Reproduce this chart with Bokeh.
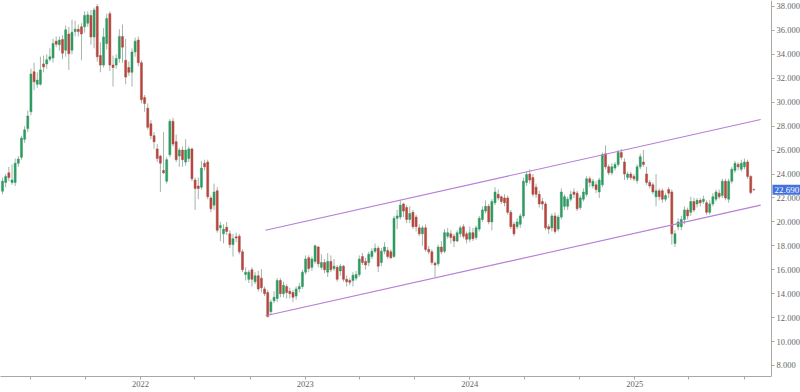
import pandas as pd
from bokeh.plotting import figure
from bokeh.models import Range1d, FixedTicker, NumeralTickFormatter, Label, ColumnDataSource
from bokeh.embed import file_html
from bokeh.resources import INLINE

# ---- data (weekly candles) ----
start_date = "2021-03-01"
opens = [22.56, 23.3, 24.1, 23.3, 23.3, 24.9, 25.4, 26.9, 27.8, 29.2,
         32.55, 31.5, 31.5, 33.2, 33.2, 33.6, 33.7, 35.1, 34.8, 35.25,
         34.35, 35.7, 34.35, 35.9, 36.1, 36.3, 36.3, 36.6, 37.25, 35.45,
         38.0, 33.9, 33.1, 34.9, 37.4, 33.1, 33.1, 33.65, 35.5, 33.5,
         32.9, 32.5, 34.2, 35.2, 33.3, 30.4, 29.5, 28.2, 27.2, 26.1,
         25.5, 24.3, 23.4, 25.6, 28.4, 26.7, 25.5, 26.0, 25.0, 25.3,
         26.1, 23.5, 23.0, 22.9, 24.9, 25.0, 22.0, 21.4, 22.6, 19.5,
         19.0, 19.55, 19.0, 18.1, 18.75, 18.8, 17.5, 15.6, 15.2, 16.0,
         15.0, 15.5, 15.3, 14.4, 14.1, 12.5, 13.4, 13.6, 15.1, 14.0,
         14.6, 14.2, 14.1, 13.8, 14.4, 14.6, 15.8, 17.0, 16.2, 16.7,
         17.9, 16.2, 16.6, 15.8, 16.7, 16.1, 16.2, 15.9, 16.3, 15.2,
         15.1, 15.1, 15.3, 15.6, 17.1, 16.7, 16.6, 17.1, 17.55, 17.8,
         16.6, 17.55, 17.6, 17.5, 17.1, 20.3, 20.4, 21.5, 21.2, 20.2,
         20.8, 20.4, 19.5, 19.0, 19.5, 17.7, 17.5, 16.55, 16.5, 17.9,
         17.55, 18.8, 19.0, 18.8, 18.4, 19.0, 19.6, 19.0, 18.55, 19.1,
         18.7, 19.4, 20.2, 20.9, 21.3, 20.0, 21.6, 22.3, 22.1, 22.0,
         22.0, 20.8, 19.8, 19.6, 19.8, 20.5, 23.3, 24.0, 23.7, 22.9,
         22.3, 21.7, 21.5, 19.6, 19.5, 20.5, 19.4, 20.4, 21.3, 21.3,
         21.9, 22.5, 22.4, 21.2, 21.9, 22.3, 23.6, 23.0, 23.1, 22.5,
         23.1, 25.7, 24.6, 24.1, 24.5, 24.8, 25.8, 25.0, 23.7, 24.0,
         23.8, 23.45, 24.6, 25.0, 24.0, 23.3, 23.1, 22.1, 22.6, 22.6,
         21.9, 22.7, 22.5, 18.2, 19.6, 19.6, 20.2, 21.0, 20.8, 21.7,
         21.5, 21.8, 21.7, 21.6, 20.8, 21.5, 21.9, 22.4, 22.2, 23.4,
         21.9, 23.4, 24.3, 24.8, 24.4, 24.6, 25.0, 23.8, 22.7]
closes = [23.4, 23.8, 23.7, 23.5, 24.9, 25.25, 27.0, 27.7, 28.85, 32.35,
          31.7, 31.85, 32.7, 32.95, 33.55, 33.8, 34.9, 34.85, 35.2, 34.1,
          36.05, 34.05, 35.85, 36.1, 35.9, 35.7, 37.25, 37.3, 35.45, 37.7,
          33.8, 33.1, 35.45, 37.0, 33.1, 32.9, 33.65, 35.5, 34.6, 32.1,
          32.5, 34.2, 35.1, 33.3, 30.2, 29.9, 27.9, 27.2, 26.7, 25.3,
          24.9, 24.1, 25.2, 28.4, 26.5, 25.2, 26.0, 25.2, 26.0, 26.1,
          23.6, 22.8, 22.8, 24.5, 24.6, 22.1, 21.1, 22.5, 19.3, 19.7,
          19.4, 19.2, 18.1, 18.6, 18.65, 17.5, 16.0, 15.8, 15.8, 15.2,
          15.5, 14.4, 14.5, 14.0, 12.1, 13.3, 13.7, 15.1, 14.0, 14.7,
          14.1, 14.0, 13.7, 14.4, 14.6, 15.8, 16.9, 16.1, 16.9, 18.0,
          16.5, 16.6, 16.0, 16.7, 16.0, 16.3, 15.2, 16.3, 15.2, 15.0,
          14.95, 15.55, 15.6, 16.9, 16.6, 16.4, 17.3, 17.55, 17.8, 16.3,
          17.55, 17.9, 17.1, 17.0, 20.3, 20.5, 21.4, 20.9, 20.2, 20.7,
          19.6, 19.6, 19.0, 19.5, 17.7, 17.5, 16.6, 16.4, 17.9, 17.5,
          19.1, 19.1, 18.7, 18.4, 19.1, 19.5, 18.8, 18.55, 19.1, 18.6,
          19.5, 20.3, 21.0, 21.3, 20.0, 21.7, 22.5, 22.0, 21.7, 21.6,
          20.8, 19.6, 19.0, 20.0, 20.5, 23.4, 23.95, 23.5, 22.3, 22.3,
          21.5, 21.5, 19.5, 19.4, 20.5, 19.2, 20.4, 22.5, 22.1, 21.9,
          22.3, 22.3, 21.1, 22.0, 22.5, 23.6, 23.3, 23.4, 22.7, 23.5,
          25.6, 24.6, 24.1, 24.6, 24.8, 25.8, 25.4, 24.0, 24.0, 23.7,
          23.6, 24.6, 25.45, 24.8, 23.3, 23.0, 22.5, 22.6, 22.1, 21.9,
          22.2, 22.4, 19.0, 19.0, 20.0, 20.2, 21.0, 20.5, 21.7, 21.0,
          21.8, 21.6, 21.9, 20.8, 21.5, 22.1, 22.5, 22.1, 23.4, 22.0,
          23.4, 24.4, 24.9, 24.6, 24.9, 25.0, 23.8, 22.45, 22.69]
highs = [23.7, 24.0, 24.6, 24.8, 25.3, 25.5, 27.2, 28.0, 29.3, 32.8,
         33.3, 32.5, 33.8, 33.9, 34.0, 34.5, 35.3, 35.5, 35.5, 35.6,
         36.4, 36.3, 36.9, 36.8, 36.5, 36.6, 37.6, 37.6, 37.7, 37.9,
         38.2, 35.0, 36.2, 37.4, 37.6, 33.9, 34.0, 36.1, 36.5, 35.3,
         33.4, 34.5, 35.4, 35.5, 33.5, 30.6, 29.9, 28.5, 27.5, 26.5,
         25.6, 27.5, 25.4, 28.6, 28.7, 27.3, 26.2, 26.3, 26.9, 26.3,
         26.2, 23.7, 23.7, 25.1, 25.2, 25.2, 22.2, 23.2, 22.9, 20.0,
         19.8, 20.0, 19.3, 19.0, 19.1, 19.0, 17.7, 16.2, 16.0, 16.2,
         15.8, 15.9, 16.05, 14.6, 14.3, 13.5, 14.2, 15.3, 15.3, 15.0,
         14.8, 14.5, 14.3, 14.6, 14.9, 16.0, 17.2, 17.2, 17.1, 18.1,
         18.0, 17.3, 16.9, 17.4, 17.2, 16.9, 16.4, 16.5, 16.4, 15.5,
         15.3, 15.8, 15.9, 17.2, 17.4, 17.0, 17.5, 17.8, 18.2, 18.0,
         17.8, 18.3, 17.9, 17.7, 20.5, 21.0, 21.8, 21.6, 21.4, 21.3,
         21.0, 20.6, 19.8, 19.7, 19.8, 18.0, 17.7, 16.7, 18.1, 18.4,
         19.4, 19.5, 19.3, 19.0, 19.3, 19.7, 19.8, 19.2, 19.6, 19.5,
         19.7, 20.5, 21.3, 21.8, 21.5, 21.9, 22.9, 22.7, 22.2, 22.3,
         22.2, 21.0, 20.0, 20.3, 20.7, 23.7, 24.2, 24.4, 24.0, 23.2,
         22.6, 22.0, 21.7, 19.8, 20.7, 20.8, 20.6, 22.8, 22.3, 22.1,
         22.6, 22.8, 22.6, 22.2, 22.8, 23.8, 23.8, 23.6, 23.4, 23.7,
         25.8, 26.4, 24.8, 24.9, 25.0, 26.0, 26.1, 25.3, 24.2, 24.2,
         24.0, 24.8, 25.7, 26.0, 24.6, 23.5, 23.3, 24.0, 22.8, 22.8,
         22.4, 22.9, 22.7, 19.3, 20.3, 20.5, 21.3, 21.2, 22.1, 22.0,
         22.0, 22.0, 22.2, 21.8, 21.8, 22.4, 22.7, 22.7, 23.6, 23.6,
         23.6, 24.6, 25.1, 25.0, 25.2, 25.3, 25.2, 23.9, 22.8]
lows = [22.3, 22.9, 23.4, 23.1, 23.0, 24.6, 25.2, 26.6, 27.5, 28.9,
        31.0, 31.2, 31.4, 32.5, 32.8, 33.4, 33.3, 34.6, 34.3, 33.6,
        33.8, 32.7, 34.0, 35.5, 35.5, 33.5, 35.8, 36.3, 34.8, 34.5,
        33.4, 32.5, 32.9, 34.4, 32.6, 31.3, 32.8, 33.3, 33.3, 31.5,
        32.2, 31.3, 33.8, 33.0, 29.9, 29.2, 27.7, 26.9, 26.1, 25.0,
        22.5, 24.0, 23.2, 25.4, 26.3, 25.0, 24.6, 24.6, 24.7, 25.0,
        23.4, 21.0, 21.9, 22.7, 24.3, 21.9, 20.8, 21.0, 19.1, 18.4,
        18.2, 18.9, 17.8, 17.1, 18.3, 17.3, 15.8, 15.1, 14.9, 14.6,
        14.8, 14.2, 14.1, 13.8, 12.0, 12.2, 13.2, 13.3, 13.7, 13.7,
        13.6, 13.6, 13.3, 13.5, 14.1, 14.4, 15.6, 15.8, 15.9, 16.5,
        16.2, 16.0, 15.7, 15.4, 15.8, 15.9, 15.0, 15.5, 15.0, 14.6,
        14.7, 14.6, 15.1, 15.4, 16.4, 16.0, 16.3, 16.9, 17.4, 15.8,
        16.3, 17.3, 16.9, 16.9, 17.0, 19.4, 20.2, 20.4, 19.9, 19.9,
        19.4, 19.2, 18.8, 18.0, 17.5, 17.3, 16.4, 15.4, 16.3, 17.3,
        17.4, 18.6, 18.2, 17.9, 18.3, 18.7, 18.6, 18.2, 18.3, 18.4,
        18.5, 19.2, 20.0, 20.7, 19.8, 19.3, 21.4, 21.8, 21.5, 21.3,
        20.6, 19.4, 18.8, 19.4, 19.5, 20.3, 23.0, 23.2, 22.1, 22.0,
        21.2, 21.0, 19.3, 19.0, 19.2, 19.0, 19.2, 20.2, 21.0, 21.0,
        21.7, 22.0, 20.9, 21.0, 21.7, 22.1, 22.9, 22.8, 22.4, 22.0,
        22.9, 24.4, 23.9, 23.9, 24.3, 24.6, 25.2, 23.5, 23.5, 23.5,
        23.4, 23.2, 24.4, 24.6, 23.1, 22.8, 22.3, 21.3, 21.8, 21.6,
        21.7, 22.0, 18.1, 17.9, 19.3, 19.3, 19.8, 20.2, 20.5, 20.8,
        21.2, 21.3, 21.5, 20.6, 20.6, 21.3, 21.7, 21.9, 22.0, 21.8,
        21.6, 23.2, 24.1, 24.3, 24.2, 24.4, 23.6, 22.3, 22.6]

# channel lines (date, price)
channel_dates = ["2022-10-05", "2025-10-07"]
upper_channel = [19.3, 28.55]
lower_channel = [12.15, 21.4]

last_price = 22.69
y_ticks = [8, 10, 12, 14, 16, 18, 20, 22, 24, 26, 28, 30, 32, 34, 36, 38]
x_tick_dates = ["2021-05-01", "2021-09-01", "2022-01-01", "2022-05-01", "2022-09-01",
                "2023-01-01", "2023-05-01", "2023-09-01", "2024-01-01", "2024-05-01",
                "2024-09-01", "2025-01-01", "2025-05-01", "2025-09-01"]
x_tick_labels = ["", "", "2022", "", "", "2023", "", "", "2024", "", "", "2025", "", ""]

# ---- build ----
n = len(closes)
dates = pd.date_range(start_date, periods=n, freq="7D")
df = pd.DataFrame({"date": dates, "open": opens[:n], "high": highs[:n], "low": lows[:n], "close": closes})
df["top"] = df[["open", "close"]].max(axis=1)
df["bottom"] = df[["open", "close"]].min(axis=1)
inc = df[df.close >= df.open]
dec = df[df.close < df.open]

GREEN = "#2e9a62"
RED = "#b4473f"
WICK = "#a2b4aa"
AXIS = "#a8a8a8"
FONT = "Liberation Sans Narrow"

PLOT_W, FULL_W, FH = 771, 800, 376
x_start = pd.Timestamp("2021-02-24 12:00")
x_edge = pd.Timestamp("2025-10-31")            # date at the price-axis line
x_full_end = x_start + (x_edge - x_start) * (FULL_W / PLOT_W)
edge_ms = x_edge.value / 1e6

p = figure(x_axis_type="datetime", frame_width=FULL_W, frame_height=FH,
           output_backend="svg", toolbar_location=None,
           x_range=Range1d(x_start, x_full_end), y_range=Range1d(7.08, 38.5),
           y_axis_location="right", min_border_left=0, min_border_top=0,
           min_border_bottom=0, min_border_right=0)
p.outline_line_color = None
p.background_fill_color = "white"
p.border_fill_color = "white"
p.grid.visible = False

w = 4.5 * 24 * 3600 * 1000
p.segment(x0="date", y0="high", x1="date", y1="low", source=ColumnDataSource(df), color=WICK, line_width=1)
p.vbar(x="date", width=w, top="top", bottom="bottom", source=ColumnDataSource(inc),
       fill_color=GREEN, line_color=GREEN, line_width=0.5)
p.vbar(x="date", width=w, top="top", bottom="bottom", source=ColumnDataSource(dec),
       fill_color=RED, line_color=RED, line_width=0.5)

cd = pd.to_datetime(channel_dates)
p.line(cd, upper_channel, color="#b57fd6", line_width=1.1)
p.line(cd, lower_channel, color="#b57fd6", line_width=1.1)

# price axis drawn at the right edge of the chart area
ya = p.yaxis[0]
ya.fixed_location = edge_ms
ya.ticker = FixedTicker(ticks=y_ticks)
ya.formatter = NumeralTickFormatter(format="0.000")
ya.axis_line_color = AXIS
ya.major_tick_line_color = AXIS
ya.major_tick_in = 0
ya.major_tick_out = 3
ya.minor_tick_line_color = None
ya.major_label_text_font = FONT
ya.major_label_text_font_size = "8.5px"
ya.major_label_text_color = "#666666"
ya.major_label_standoff = 2

xa = p.xaxis[0]
tick_ms = [pd.Timestamp(d).value / 1e6 for d in x_tick_dates]
xa.ticker = FixedTicker(ticks=tick_ms)
xa.major_label_overrides = {t: lab for t, lab in zip(tick_ms, x_tick_labels)}
xa.bounds = (x_start.value / 1e6, edge_ms)
xa.axis_line_color = AXIS
xa.major_tick_line_color = AXIS
xa.major_tick_in = 0
xa.major_tick_out = 3
xa.minor_tick_line_color = None
xa.major_label_text_font = FONT
xa.major_label_text_font_size = "8.5px"
xa.major_label_text_color = "#666666"
xa.major_label_standoff = 1

lab = Label(x=edge_ms, y=last_price, x_offset=1,
            text=f"{last_price:.3f}",
            text_baseline="middle", text_align="left",
            text_color="white", text_font=FONT, text_font_size="9px",
            background_fill_color="#4271e0", border_line_color=None,
            padding=2, level="overlay")
p.add_layout(lab)

open("out.html", "w").write(file_html(p, INLINE))
